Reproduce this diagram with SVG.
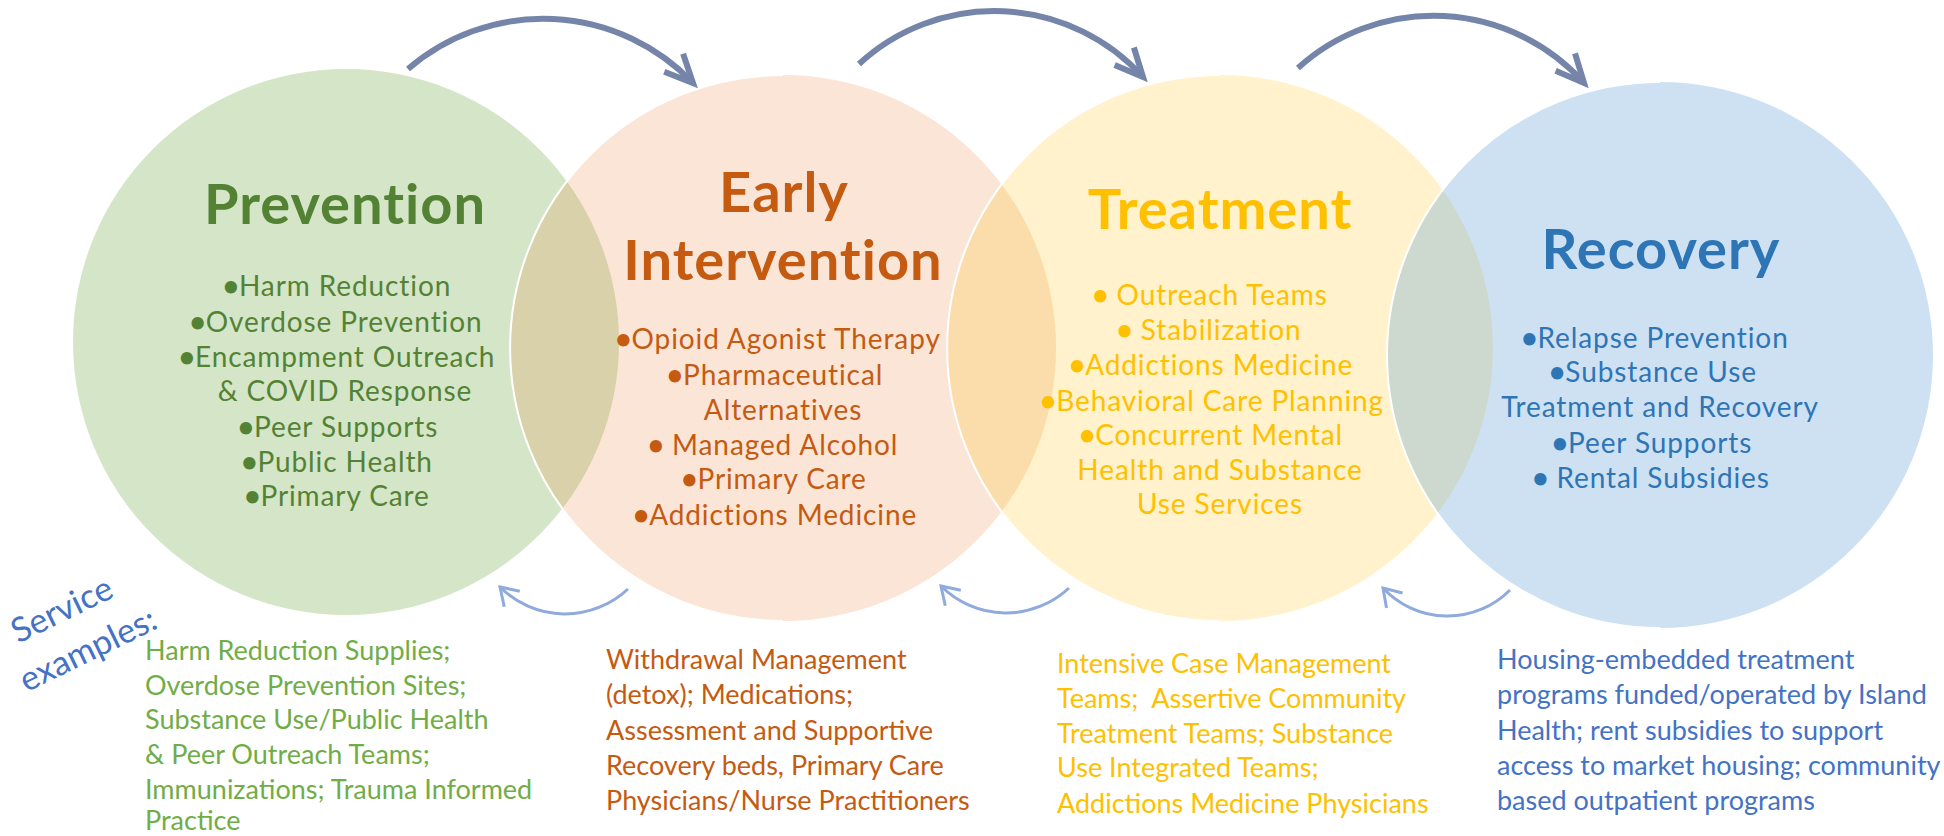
<svg xmlns="http://www.w3.org/2000/svg" width="1944" height="836" viewBox="0 0 1944 836">
<defs>
<style>
text{font-family:Lato,"Open Sans","DejaVu Sans",sans-serif}
.title{font-weight:bold;font-size:56px;letter-spacing:1px;text-anchor:middle}
.li{font-size:28px;letter-spacing:0.9px;text-anchor:middle}
.bu{font-weight:bold;letter-spacing:0px}
.svc{font-size:27px}
.g1{fill:#548235}.o1{fill:#C55A11}.y1{fill:#FFC000}.b1{fill:#2E75B6}
.g2{fill:#70AD47}.o2{fill:#C55A11}.y2{fill:#FFC000}.b2{fill:#4472C4}
.top{fill:none;stroke:#7585AA;stroke-width:6}
.bot{fill:none;stroke:#8FAADC;stroke-width:3}
.edge{fill:none;stroke:#FFFFFF;stroke-width:2}
</style>
<marker id="ahTop" markerUnits="userSpaceOnUse" markerWidth="40" markerHeight="40" refX="0" refY="0" orient="auto" style="overflow:visible">
<path d="M-28,-13 L0,0 L-28,13" fill="none" stroke="#7585AA" stroke-width="6"/>
</marker>
<marker id="ahBot" markerUnits="userSpaceOnUse" markerWidth="30" markerHeight="30" refX="0" refY="0" orient="auto" style="overflow:visible">
<path d="M-17,-11 L0,0 L-17,11" fill="none" stroke="#8FAADC" stroke-width="3"/>
</marker>
</defs>
<rect width="1944" height="836" fill="#FFFFFF"/>

<g id="prevention">
<circle cx="346" cy="342" r="273" fill="#70AD47" fill-opacity="0.3"/>
</g>
<g id="early-intervention">
<circle cx="783" cy="348" r="273" fill="#ED7D31" fill-opacity="0.2"/>
<path class="edge" d="M783,75 A273,273 0 0 0 783,621"/>
</g>
<g id="treatment">
<circle cx="1220" cy="348" r="273" fill="#FFC000" fill-opacity="0.2"/>
<path class="edge" d="M1220,75 A273,273 0 0 0 1220,621"/>
</g>
<g id="recovery">
<circle cx="1660" cy="355" r="273" fill="#5B9BD5" fill-opacity="0.3"/>
<path class="edge" d="M1660,82 A273,273 0 0 0 1660,628"/>
</g>

<g id="prevention-text">
<text class="title g1" x="345" y="224">Prevention</text>
<text class="li g1" x="337" y="296"><tspan class="bu">•</tspan>Harm Reduction</text>
<text class="li g1" x="336" y="332"><tspan class="bu">•</tspan>Overdose Prevention</text>
<text class="li g1" x="337" y="367"><tspan class="bu">•</tspan>Encampment Outreach</text>
<text class="li g1" x="345" y="401">&amp; COVID Response</text>
<text class="li g1" x="338" y="437"><tspan class="bu">•</tspan>Peer Supports</text>
<text class="li g1" x="337" y="472"><tspan class="bu">•</tspan>Public Health</text>
<text class="li g1" x="337" y="506"><tspan class="bu">•</tspan>Primary Care</text>
</g>

<g id="early-text">
<text class="title o1" x="784" y="212">Early</text>
<text class="title o1" x="783" y="280">Intervention</text>
<text class="li o1" x="778" y="349"><tspan class="bu">•</tspan>Opioid Agonist Therapy</text>
<text class="li o1" x="775" y="385"><tspan class="bu">•</tspan>Pharmaceutical</text>
<text class="li o1" x="783" y="420">Alternatives</text>
<text class="li o1" x="773" y="455"><tspan class="bu">•</tspan> Managed Alcohol</text>
<text class="li o1" x="774" y="489"><tspan class="bu">•</tspan>Primary Care</text>
<text class="li o1" x="775" y="525"><tspan class="bu">•</tspan>Addictions Medicine</text>
</g>

<g id="treatment-text">
<text class="title y1" x="1220" y="229">Treatment</text>
<text class="li y1" x="1210" y="305"><tspan class="bu">•</tspan> Outreach Teams</text>
<text class="li y1" x="1209" y="340"><tspan class="bu">•</tspan> Stabilization</text>
<text class="li y1" x="1211" y="375"><tspan class="bu">•</tspan>Addictions Medicine</text>
<text class="li y1" x="1212" y="411"><tspan class="bu">•</tspan>Behavioral Care Planning</text>
<text class="li y1" x="1211" y="445"><tspan class="bu">•</tspan>Concurrent Mental</text>
<text class="li y1" x="1220" y="480">Health and Substance</text>
<text class="li y1" x="1220" y="514">Use Services</text>
</g>

<g id="recovery-text">
<text class="title b1" x="1661" y="269">Recovery</text>
<text class="li b1" x="1655" y="348"><tspan class="bu">•</tspan>Relapse Prevention</text>
<text class="li b1" x="1653" y="382"><tspan class="bu">•</tspan>Substance Use</text>
<text class="li b1" x="1660" y="417">Treatment and Recovery</text>
<text class="li b1" x="1652" y="453"><tspan class="bu">•</tspan>Peer Supports</text>
<text class="li b1" x="1651" y="488"><tspan class="bu">•</tspan> Rental Subsidies</text>
</g>

<g id="connectors">
<path class="top" d="M408,69 A207,207 0 0 1 693,83" marker-end="url(#ahTop)"/>
<path class="top" d="M859,64 A200,200 0 0 1 1143,77" marker-end="url(#ahTop)"/>
<path class="top" d="M1298,68 A202,202 0 0 1 1584,83" marker-end="url(#ahTop)"/>
<path class="bot" d="M628,589 A92,92 0 0 1 500,587" marker-end="url(#ahBot)"/>
<path class="bot" d="M1069,588 A92,92 0 0 1 941,586" marker-end="url(#ahBot)"/>
<path class="bot" d="M1510,590 A88,88 0 0 1 1383,588" marker-end="url(#ahBot)"/>
</g>

<g id="service-label">
<text class="b2" font-size="34" text-anchor="middle" transform="translate(67,620) rotate(-26)">Service</text>
<text class="b2" font-size="34" text-anchor="middle" transform="translate(93,660) rotate(-26)">examples:</text>
</g>

<g id="prevention-services">
<text class="svc g2" x="145" y="660">Harm Reduction Supplies;</text>
<text class="svc g2" x="145" y="695">Overdose Prevention Sites;</text>
<text class="svc g2" x="145" y="729">Substance Use/Public Health</text>
<text class="svc g2" x="145" y="764">&amp; Peer Outreach Teams;</text>
<text class="svc g2" x="145" y="799">Immunizations; Trauma Informed</text>
<text class="svc g2" x="145" y="830">Practice</text>
</g>

<g id="early-services">
<text class="svc o2" x="606" y="669">Withdrawal Management</text>
<text class="svc o2" x="606" y="704">(detox); Medications;</text>
<text class="svc o2" x="606" y="740">Assessment and Supportive</text>
<text class="svc o2" x="606" y="775">Recovery beds, Primary Care</text>
<text class="svc o2" x="606" y="810">Physicians/Nurse Practitioners</text>
</g>

<g id="treatment-services">
<text class="svc y2" x="1057" y="673">Intensive Case Management</text>
<text class="svc y2" x="1057" y="708" xml:space="preserve">Teams;  Assertive Community</text>
<text class="svc y2" x="1057" y="743">Treatment Teams; Substance</text>
<text class="svc y2" x="1057" y="777">Use Integrated Teams;</text>
<text class="svc y2" x="1057" y="813">Addictions Medicine Physicians</text>
</g>

<g id="recovery-services">
<text class="svc b2" x="1497" y="669">Housing-embedded treatment</text>
<text class="svc b2" x="1497" y="704">programs funded/operated by Island</text>
<text class="svc b2" x="1497" y="740">Health; rent subsidies to support</text>
<text class="svc b2" x="1497" y="775">access to market housing; community</text>
<text class="svc b2" x="1497" y="810">based outpatient programs</text>
</g>
</svg>
